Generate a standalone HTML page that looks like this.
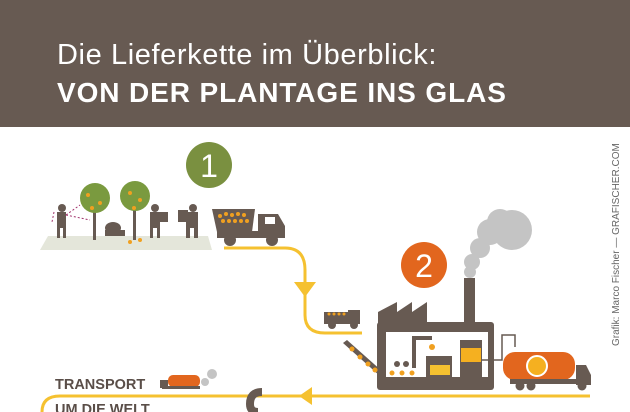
<!DOCTYPE html>
<html><head><meta charset="utf-8"><style>
html,body{margin:0;padding:0;background:#fff;width:630px;height:412px;overflow:hidden}
.hd{position:absolute;left:0;top:0;width:630px;height:127px;background:#675a52}
.t1{position:absolute;left:57px;top:39px;color:#fff;font:300 29px "Liberation Sans",sans-serif;letter-spacing:0.6px}
.t2{position:absolute;left:57px;top:77px;color:#fff;font:bold 28px "Liberation Sans",sans-serif;letter-spacing:0.9px}
svg{position:absolute;left:0;top:0}
.cr{position:absolute;left:611px;top:346px;transform-origin:0 0;transform:rotate(-90deg);font:10px "Liberation Sans",sans-serif;color:#666;white-space:nowrap}
</style></head><body>
<div class="hd"></div>
<div class="t1">Die Lieferkette im Überblick:</div>
<div class="t2">VON DER PLANTAGE INS GLAS</div>
<div class="cr">Grafik: Marco Fischer — GRAFISCHER.COM</div>
<svg width="630" height="412" viewBox="0 0 630 412">
<polygon points="48,236 208,236 212,250 40,250" fill="#e4e6da"/>
<rect x="93" y="200" width="3" height="40" fill="#675a52"/>
<circle cx="95" cy="198" r="15" fill="#7a9a3f"/>
<rect x="133" y="198" width="3" height="42" fill="#675a52"/>
<circle cx="135" cy="196" r="15" fill="#7a9a3f"/>
<g fill="#f0a020"><circle cx="88" cy="195" r="2"/><circle cx="100" cy="203" r="2"/><circle cx="92" cy="208" r="2"/><circle cx="130" cy="193" r="2"/><circle cx="140" cy="200" r="2"/><circle cx="134" cy="208" r="2"/><circle cx="140" cy="240" r="2"/><circle cx="130" cy="242" r="2"/></g>
<g fill="#675a52">
<circle cx="62" cy="208" r="4"/><rect x="57" y="212" width="9" height="16"/><rect x="57" y="228" width="3" height="10"/><rect x="63" y="228" width="3" height="10"/>
<ellipse cx="113" cy="228" rx="8" ry="6"/><rect x="105" y="230" width="20" height="6"/>
<circle cx="155" cy="208" r="4"/><rect x="150" y="212" width="10" height="16"/><rect x="150" y="228" width="3" height="10"/><rect x="157" y="228" width="3" height="10"/><rect x="160" y="212" width="8" height="10"/>
<circle cx="193" cy="208" r="4"/><rect x="186" y="212" width="12" height="16"/><rect x="186" y="228" width="4" height="10"/><rect x="194" y="228" width="4" height="10"/><rect x="178" y="210" width="10" height="12"/>
</g>
<path d="M54,212 L52,222 M66,215 L80,205 M66,215 L90,220" stroke="#a0306a" stroke-width="1" stroke-dasharray="2,2" fill="none"/>
<circle cx="209" cy="165" r="23" fill="#7a9040"/>
<text x="209" y="177" text-anchor="middle" font-family="Liberation Sans" font-size="32" fill="#fff">1</text>
<g fill="#675a52"><polygon points="212,209 255,209 252,232 217,232"/><rect x="217" y="231" width="50" height="7"/><polygon points="258,214 278,214 285,226 285,238 258,238"/>
<circle cx="230" cy="240" r="6"/><circle cx="272" cy="240" r="6"/></g>
<rect x="265" y="217" width="10" height="7" fill="#fff"/>
<g fill="#f0a020"><circle cx="220" cy="216" r="2"/><circle cx="226" cy="214" r="2"/><circle cx="232" cy="215" r="2"/><circle cx="238" cy="214" r="2"/><circle cx="244" cy="215" r="2"/><circle cx="223" cy="221" r="2"/><circle cx="229" cy="221" r="2"/><circle cx="235" cy="221" r="2"/><circle cx="241" cy="221" r="2"/><circle cx="247" cy="221" r="2"/></g>
<path d="M224,248 H285 Q305,248 305,270 V315 Q305,333 325,333 H362" stroke="#f5c130" stroke-width="3" fill="none"/>
<polygon points="294,282 316,282 305,297" fill="#f5c130"/>
<path d="M590,396 H60 Q42,396 42,412" stroke="#f5c130" stroke-width="3" fill="none"/>
<polygon points="299,396 312,387 312,405" fill="#f5c130"/>
<g fill="#675a52"><rect x="324" y="312" width="24" height="12"/><rect x="348" y="310" width="12" height="14"/><circle cx="332" cy="325" r="4"/><circle cx="354" cy="325" r="4"/></g>
<g fill="#f0a020"><circle cx="329" cy="314" r="1.5"/><circle cx="334" cy="314" r="1.5"/><circle cx="339" cy="314" r="1.5"/><circle cx="344" cy="314" r="1.5"/></g>
<circle cx="424" cy="265" r="23" fill="#e2661e"/>
<text x="424" y="277" text-anchor="middle" font-family="Liberation Sans" font-size="32" fill="#fff">2</text>
<g fill="#c4c4c4"><circle cx="512" cy="230" r="20"/><circle cx="490" cy="232" r="13"/><circle cx="480" cy="248" r="10"/><circle cx="472" cy="262" r="8"/><circle cx="470" cy="272" r="6"/><circle cx="500" cy="222" r="13"/></g>
<g fill="#675a52">
<rect x="464" y="278" width="11" height="50"/>
<polygon points="378,325 378,312 397,302 397,312 412,302 412,312 427,302 427,325"/>
<rect x="377" y="322" width="117" height="68" rx="3"/>
<polygon points="343,343 347,340 383,372 380,376"/>
</g>
<rect x="386" y="332" width="102" height="45" fill="#fff"/>
<g fill="#675a52"><rect x="412" y="338" width="4" height="30"/><rect x="412" y="336" width="20" height="4"/><rect x="426" y="356" width="26" height="21"/><circle cx="397" cy="364" r="3"/><circle cx="406" cy="364" r="3"/><rect x="460" y="340" width="22" height="37"/></g>
<rect x="430" y="365" width="20" height="10" fill="#f5c130"/>
<rect x="461" y="348" width="20" height="14" fill="#f5b020"/>
<g fill="#f0a020"><circle cx="352" cy="349" r="2.5"/><circle cx="360" cy="357" r="2.5"/><circle cx="368" cy="364" r="2.5"/><circle cx="375" cy="370" r="2.5"/><circle cx="392" cy="373" r="2.5"/><circle cx="402" cy="373" r="2.5"/><circle cx="412" cy="373" r="2.5"/><circle cx="432" cy="347" r="3"/></g>
<path d="M481,360 H502 V335 H515 V347" stroke="#675a52" stroke-width="1.5" fill="none"/>
<rect x="503" y="352" width="72" height="28" rx="12" fill="#e2661e"/>
<circle cx="537" cy="366" r="10" fill="#f5b020" stroke="#fff" stroke-width="2"/>
<g fill="#675a52"><rect x="510" y="379" width="66" height="5"/><polygon points="576,365 586,365 591,375 591,385 576,385"/><circle cx="520" cy="386" r="4.5"/><circle cx="531" cy="386" r="4.5"/><circle cx="582" cy="386" r="4.5"/></g>
<text x="55" y="389" font-family="Liberation Sans" font-weight="bold" font-size="14.5" fill="#5a4e48">TRANSPORT</text>
<text x="55" y="414" font-family="Liberation Sans" font-weight="bold" font-size="14.5" fill="#5a4e48">UM DIE WELT</text>
<rect x="168" y="375" width="32" height="12" rx="5" fill="#e2661e"/>
<g fill="#675a52"><rect x="160" y="380" width="8" height="8"/><rect x="162" y="386" width="38" height="3"/></g>
<circle cx="212" cy="374" r="5" fill="#c4c4c4"/><circle cx="205" cy="382" r="4" fill="#c4c4c4"/>
<path d="M262,392 Q250,392 250,404 Q250,412 258,412" stroke="#675a52" stroke-width="8" fill="none"/>
</svg>
</body></html>
